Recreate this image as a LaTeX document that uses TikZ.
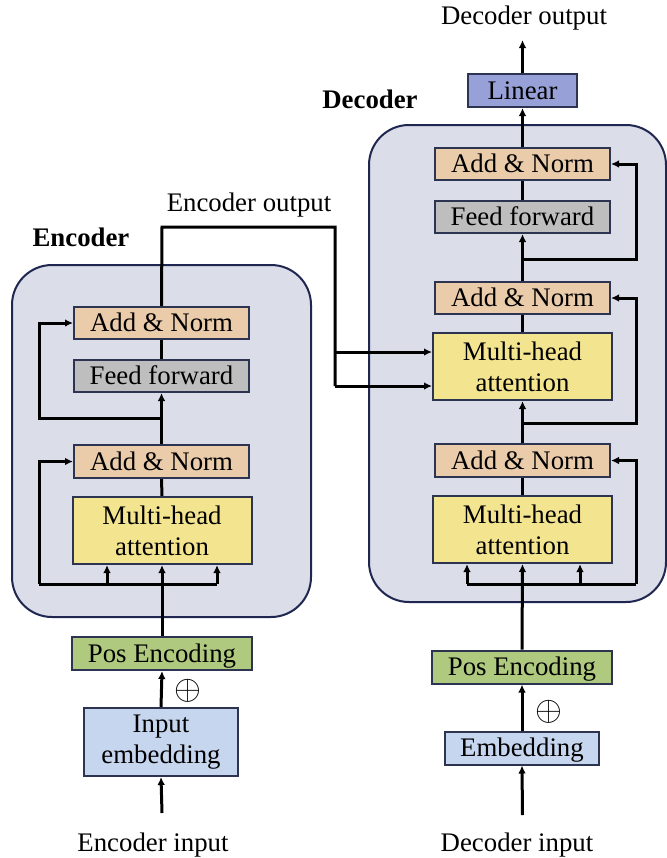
\documentclass[tikz,border=0pt]{standalone}
\usepackage{fontspec}
\setmainfont{Liberation Serif}
\usetikzlibrary{arrows.meta}
\pgfdeclarelayer{boxlayer}
\pgfdeclarelayer{edgelayer}
\pgfdeclarelayer{nodelayer}
\pgfsetlayers{boxlayer,edgelayer,nodelayer,main}
\definecolor{stackline}{HTML}{1F2650}
\definecolor{stackfill}{HTML}{DBDDE9}
\definecolor{blockline}{HTML}{2C3452}
\definecolor{peach}{HTML}{EACBAA}
\definecolor{ffgray}{HTML}{BEBEBE}
\definecolor{mhayellow}{HTML}{F3E48F}
\definecolor{posgreen}{HTML}{AFCA7E}
\definecolor{embblue}{HTML}{C7D6EF}
\definecolor{linblue}{HTML}{97A1D7}
\tikzstyle{none}=[inner sep=0pt]
\tikzstyle{heading}=[inner sep=0pt, font=\fontsize{13.4}{15.5}\selectfont]
\tikzstyle{title}=[inner sep=0pt, font=\bfseries\fontsize{13.4}{15.5}\selectfont]
\tikzstyle{stack}=[rectangle, draw=stackline, fill=stackfill, line width=1pt, rounded corners=20pt]
\tikzstyle{block}=[rectangle, draw=blockline, line width=1pt, inner sep=0pt, align=center, font=\fontsize{13.4}{15.5}\selectfont]
\tikzstyle{oneline}=[text height=11.9pt, text depth=3pt]
\tikzstyle{addnorm}=[block, oneline, fill=peach, minimum width=87.5pt, minimum height=16.25pt]
\tikzstyle{feedfwd}=[block, oneline, fill=ffgray, minimum width=87.5pt, minimum height=16pt]
\tikzstyle{attention}=[block, fill=mhayellow, minimum width=89.5pt, minimum height=33.5pt]
\tikzstyle{posenc}=[block, oneline, fill=posgreen, minimum width=90pt, minimum height=16.5pt]
\tikzstyle{embed}=[block, fill=embblue, minimum width=77pt, minimum height=16.5pt]
\tikzstyle{linear}=[block, oneline, fill=linblue, minimum width=54.5pt, minimum height=16.5pt]
\tikzstyle{transition}=[-{Latex[length=4pt,width=3.8pt]}, draw=black, line width=1.5pt]
\tikzstyle{simple}=[-, draw=black, line width=1.5pt]

\begin{document}
\begin{tikzpicture}[x=0.5pt, y=-0.5pt]
	\useasboundingbox (0, 0) rectangle (667, 858);
	\begin{pgfonlayer}{boxlayer}
		\node [style=stack, minimum width=149.5pt, minimum height=176pt] (0) at (161.5, 441) {};
		\node [style=stack, minimum width=148.5pt, minimum height=238.5pt] (1) at (517.5, 363.5) {};
	\end{pgfonlayer}
	\begin{pgfonlayer}{nodelayer}
		% encoder
		\node [style=title] (2) at (81, 237) {Encoder};
		\node [style=heading] (3) at (249, 205) {Encoder output};
		\node [style=addnorm] (4) at (161.5, 323) {Add \& Norm};
		\node [style=feedfwd] (5) at (161.5, 376) {Feed forward};
		\node [style=addnorm] (6) at (161.5, 461.5) {Add \& Norm};
		\node [style=attention] (7) at (162, 530.5) {Multi-head\\attention};
		\node [style=posenc] (8) at (162, 653.5) {Pos Encoding};
		\node [style=heading] (9) at (188, 691) {\fontsize{19}{19}\selectfont$\oplus$};
		\node [style=embed, minimum height=34pt] (10) at (161, 742) {Input\\embedding};
		\node [style=heading] (11) at (153, 845) {Encoder input};
		\node [style=none] (12) at (162, 813) {};
		\node [style=none] (13) at (39, 584) {};
		\node [style=none] (14) at (107, 584) {};
		\node [style=none] (15) at (217, 584) {};
		\node [style=none] (16) at (162, 418) {};
		\node [style=none] (17) at (39, 418) {};
		\node [style=none] (18) at (162, 227) {};
		\node [style=none] (19) at (335, 227) {};
		\node [style=none] (20) at (335, 352) {};
		\node [style=none] (21) at (335, 386) {};
		% decoder
		\node [style=title] (22) at (370, 99) {Decoder};
		\node [style=heading] (23) at (524, 18) {Decoder output};
		\node [style=linear] (24) at (522.5, 90.5) {Linear};
		\node [style=addnorm] (25) at (522.5, 164) {Add \& Norm};
		\node [style=feedfwd] (26) at (522.5, 217) {Feed forward};
		\node [style=addnorm] (27) at (522.5, 298) {Add \& Norm};
		\node [style=attention] (28) at (522.5, 366.5) {Multi-head\\attention};
		\node [style=addnorm] (29) at (522.5, 460.5) {Add \& Norm};
		\node [style=attention] (30) at (522.5, 529.5) {Multi-head\\attention};
		\node [style=posenc] (31) at (522, 667) {Pos Encoding};
		\node [style=heading] (32) at (549, 712) {\fontsize{19}{19}\selectfont$\oplus$};
		\node [style=embed, oneline] (33) at (522, 748) {Embedding};
		\node [style=heading] (34) at (517, 845) {Decoder input};
		\node [style=none] (35) at (522.5, 815) {};
		\node [style=none] (36) at (467, 584) {};
		\node [style=none] (37) at (580, 584) {};
		\node [style=none] (38) at (636, 584) {};
		\node [style=none] (39) at (522.5, 423) {};
		\node [style=none] (40) at (636, 423) {};
		\node [style=none] (41) at (522.5, 259) {};
		\node [style=none] (42) at (636, 259) {};
		\node [style=none] (43) at (522.5, 40) {};
	\end{pgfonlayer}
	\begin{pgfonlayer}{edgelayer}
		\draw [style=transition] (12.center) to (10.south);
		\draw [style=transition] (10.north) to (8.south);
		\draw [style=transition] (8.north) to (7.south);
		\draw [style=simple] (13.center) to (15.center);
		\draw [style=transition] (14.center) to (14 |- 7.south);
		\draw [style=transition] (15.center) to (15 |- 7.south);
		\draw [style=transition] (13.center) |- (6.west);
		\draw [style=simple] (7.north) to (6.south);
		\draw [style=transition] (6.north) to (5.south);
		\draw [style=transition] (16.center) to (17.center) |- (4.west);
		\draw [style=simple] (5.north) to (4.south);
		\draw [style=simple] (4.north) to (18.center) to (19.center) to (21.center);
		\draw [style=transition] (20.center) to (20 -| 28.west);
		\draw [style=transition] (21.center) to (21 -| 28.west);
		\draw [style=transition] (35.center) to (33.south);
		\draw [style=transition] (33.north) to (31.south);
		\draw [style=transition] (31.north) to (30.south);
		\draw [style=simple] (36.center) to (38.center);
		\draw [style=transition] (36.center) to (36 |- 30.south);
		\draw [style=transition] (37.center) to (37 |- 30.south);
		\draw [style=transition] (38.center) |- (29.east);
		\draw [style=simple] (30.north) to (29.south);
		\draw [style=transition] (29.north) to (28.south);
		\draw [style=transition] (39.center) to (40.center) |- (27.east);
		\draw [style=simple] (28.north) to (27.south);
		\draw [style=transition] (27.north) to (26.south);
		\draw [style=transition] (41.center) to (42.center) |- (25.east);
		\draw [style=simple] (26.north) to (25.south);
		\draw [style=transition] (25.north) to (24.south);
		\draw [style=transition] (24.north) to (43.center);
	\end{pgfonlayer}
\end{tikzpicture}
\end{document}
